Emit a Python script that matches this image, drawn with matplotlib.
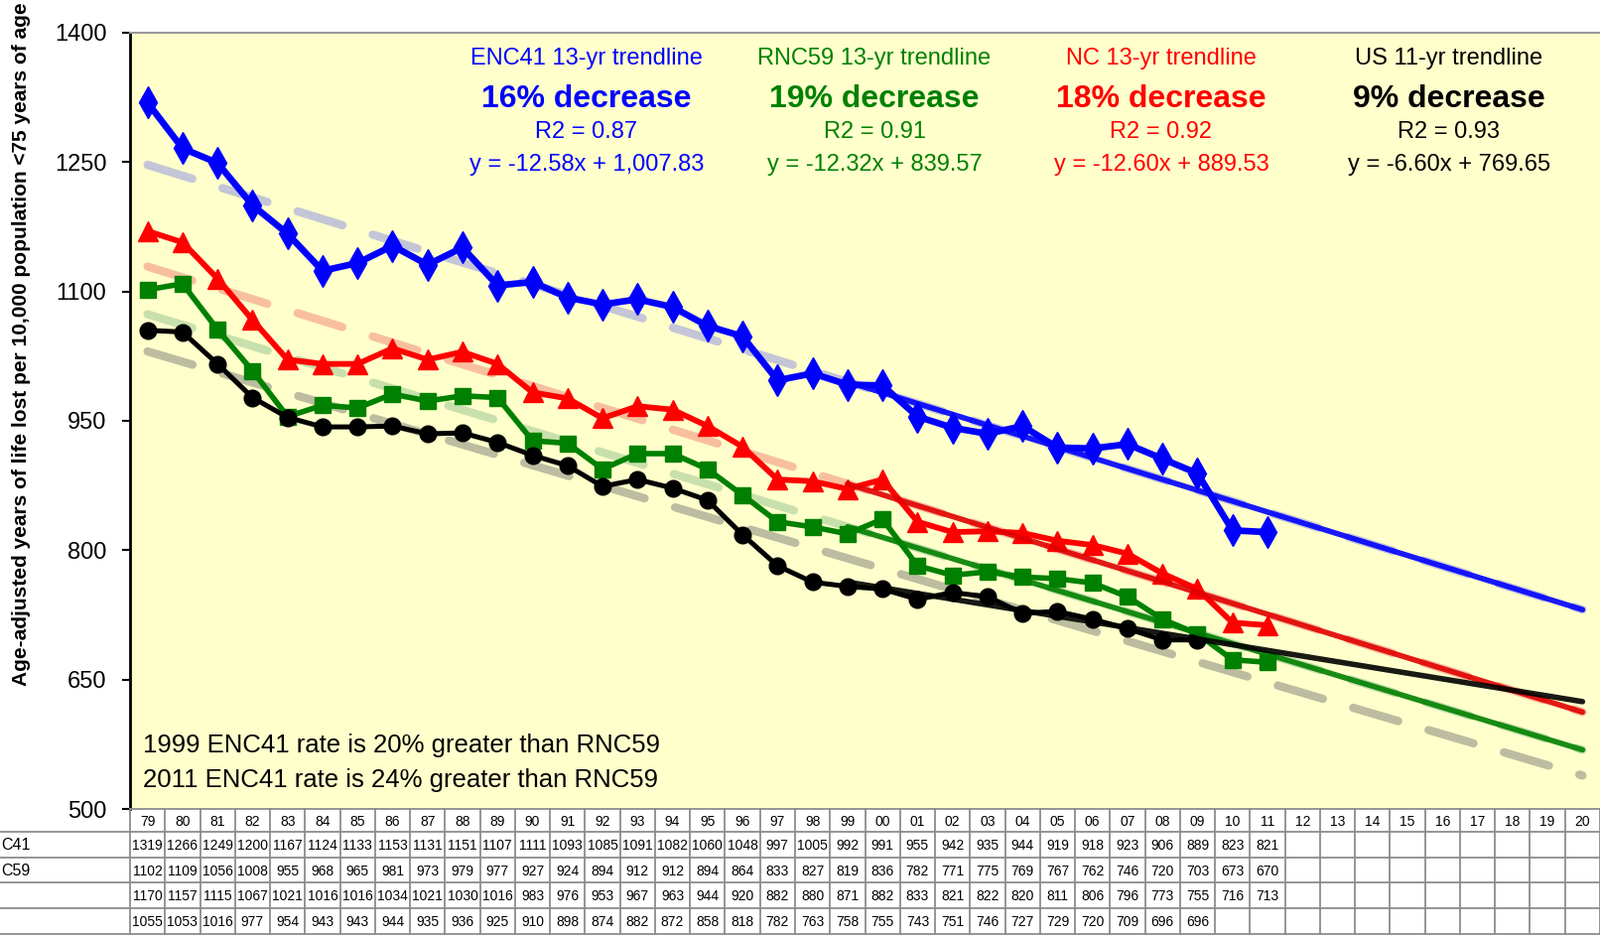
import numpy as np
import matplotlib
matplotlib.use("Agg")
import matplotlib.pyplot as plt
from matplotlib import font_manager

names = {f.name for f in font_manager.fontManager.ttflist}
NARROW = 'Liberation Sans Narrow' if 'Liberation Sans Narrow' in names else 'Liberation Sans'

# data
years = list(range(1979, 2021))
year_labels = ['%02d' % (y % 100) for y in years]
enc41 = [1319, 1266, 1249, 1200, 1167, 1124, 1133, 1153, 1131, 1151, 1107, 1111, 1093, 1085, 1091,
         1082, 1060, 1048, 997, 1005, 992, 991, 955, 942, 935, 944, 919, 918, 923, 906, 889, 823, 821]
rnc59 = [1102, 1109, 1056, 1008, 955, 968, 965, 981, 973, 979, 977, 927, 924, 894, 912,
         912, 894, 864, 833, 827, 819, 836, 782, 771, 775, 769, 767, 762, 746, 720, 703, 673, 670]
nc = [1170, 1157, 1115, 1067, 1021, 1016, 1016, 1034, 1021, 1030, 1016, 983, 976, 953, 967,
      963, 944, 920, 882, 880, 871, 882, 833, 821, 822, 820, 811, 806, 796, 773, 755, 716, 713]
us = [1055, 1053, 1016, 977, 954, 943, 943, 944, 935, 936, 925, 910, 898, 874, 882,
      872, 858, 818, 782, 763, 758, 755, 743, 751, 746, 727, 729, 720, 709, 696, 696]
# only the tail of the first two row names is visible in the picture
row_names = ['C41', 'C59']

# trendline equations shown on the chart (x = year - 1998)
trend_slope = [-12.58, -12.32, -12.60, -6.60]
trend_icpt = [1007.83, 839.57, 889.53, 769.65]
trend_start = 1999
headline = ['ENC41 13-yr trendline', 'RNC59 13-yr trendline', 'NC 13-yr trendline', 'US 11-yr trendline']
pct = ['16% decrease', '19% decrease', '18% decrease', '9% decrease']
r2 = ['R2 = 0.87', 'R2 = 0.91', 'R2 = 0.92', 'R2 = 0.93']
eqn = ['y = -12.58x + 1,007.83', 'y = -12.32x + 839.57', 'y = -12.60x + 889.53', 'y = -6.60x + 769.65']

colors = ['#0000ff', '#008000', '#ff0000', '#000000']
trend_colors = ['#0000ff', '#008000', '#e00000', '#000000']
dash_colors = ['#c4c5d6', '#c8e0ac', '#f8bf9f', '#bcbca0']
markers = ['d', 's', '^', 'o']
msizes = [16, 12, 15, 12]
lws = [4.8, 4, 4.2, 3.6]

W, H = 1612, 943
L, T, B = 131, 33, 815
fig = plt.figure(figsize=(W / 100, H / 100), dpi=100)
ax = fig.add_axes([L / W, 1 - B / H, 1 - L / W, (B - T) / H])
ax.set_facecolor('#ffffcc')

x_all = np.arange(len(years))
series = [enc41, rnc59, nc, us]

# long dashed trend lines (colored = 13-yr fit extended back; gray = US full fit)
plt.rcParams['lines.scale_dashes'] = False
for i in range(3):
    yy = trend_icpt[i] + trend_slope[i] * (np.array(years) - 1998)
    ax.plot(x_all, yy, color=dash_colors[i], lw=6, dashes=(34, 23),
            dash_capstyle='round', zorder=1)
k = np.polyfit(np.arange(len(us)), us, 1)
ax.plot(x_all, np.polyval(k, x_all), color=dash_colors[3], lw=6, dashes=(34, 23),
        dash_capstyle='round', zorder=1)

# data lines
for s, c, m, ms, lw in zip(series, colors, markers, msizes, lws):
    ax.plot(np.arange(len(s)), s, color=c, lw=lw, marker=m, ms=ms, zorder=3)

# 13-yr trendlines projected to 2020
for i in range(4):
    yrs = np.arange(trend_start, 2021)
    yy = trend_icpt[i] + trend_slope[i] * (yrs - 1998)
    ax.plot(yrs - 1979, yy, color=trend_colors[i], lw=4, alpha=0.9,
            solid_capstyle='round', zorder=4)

ax.set_xlim(-0.5, len(years) - 0.5)
ax.set_ylim(500, 1400)
ax.set_yticks(np.arange(500, 1401, 150))
ax.set_xticks([])
ax.tick_params(axis='y', direction='out', length=6, width=1.5, labelsize=17, pad=11)
for lab in ax.get_yticklabels():
    lab.set_fontfamily('Liberation Sans')
for side in ['right', 'bottom']:
    ax.spines[side].set_visible(False)
ax.spines['left'].set_linewidth(2)
ax.spines['top'].set_color('#999999')
ax.spines['top'].set_linewidth(1.5)

fig.text(22 / W, 1 - 347 / H,
         'Age-adjusted years of life lost per 10,000 population <75 years of age',
         rotation=90, ha='center', va='center', fontsize=15, fontweight='bold', family=NARROW)

# trendline annotations
col_x = [(591 - L) / (W - L), (881 - L) / (W - L), (1170 - L) / (W - L), (1460 - L) / (W - L)]
for i in range(4):
    kw = dict(transform=ax.transAxes, ha='center', va='center', color=colors[i], zorder=6)
    ax.text(col_x[i], (B - 59) / (B - T), headline[i], fontsize=17, family=NARROW, **kw)
    ax.text(col_x[i], (B - 100) / (B - T), pct[i], fontsize=23, fontweight='bold',
            family='Liberation Sans', **kw)
    ax.text(col_x[i], (B - 133) / (B - T), r2[i], fontsize=17, family=NARROW, **kw)
    ax.text(col_x[i], (B - 166) / (B - T), eqn[i], fontsize=17, family=NARROW, **kw)

ax.text((144 - L) / (W - L), (B - 751) / (B - T), '1999 ENC41 rate is 20% greater than RNC59',
        transform=ax.transAxes, ha='left', va='center', fontsize=18.5, family=NARROW)
ax.text((144 - L) / (W - L), (B - 786) / (B - T), '2011 ENC41 rate is 24% greater than RNC59',
        transform=ax.transAxes, ha='left', va='center', fontsize=18.5, family=NARROW)

# data table below the plot
tax = fig.add_axes([L / W, 0, 1 - L / W, (H - B) / H])
tax.set_xlim(-0.5, len(years) - 0.5)
tax.set_ylim(H, B)
tax.axis('off')
row_edges = [B, 838, 864, 889, 915, 941]
grid = dict(color='#8c8c8c', lw=1.3, clip_on=False)
n = len(years)
colw = (W - L) / n
for j, ye in enumerate(row_edges):
    x0 = -0.5 if j == 0 else -0.5 - L / colw
    tax.plot([x0, n - 0.5], [ye, ye], **grid)
for xi in range(n + 1):
    tax.plot([xi - 0.5, xi - 0.5], [B, row_edges[-1]], **grid)
for xi, lab in enumerate(year_labels):
    tax.text(xi, (row_edges[0] + row_edges[1]) / 2 + 1, lab, ha='center', va='center',
             fontsize=10, family='Liberation Sans')
for r, s in enumerate(series):
    yc = (row_edges[r + 1] + row_edges[r + 2]) / 2 + 1
    if r < len(row_names):
        tax.text(-0.5 - (L - 1) / colw, yc, row_names[r], ha='left', va='center',
                 fontsize=11.5, family='Liberation Sans', clip_on=False)
    for xi, v in enumerate(s):
        tax.text(xi, yc, str(v), ha='center', va='center', fontsize=10,
                 family='Liberation Sans')

fig.savefig('out.png', dpi=100)
